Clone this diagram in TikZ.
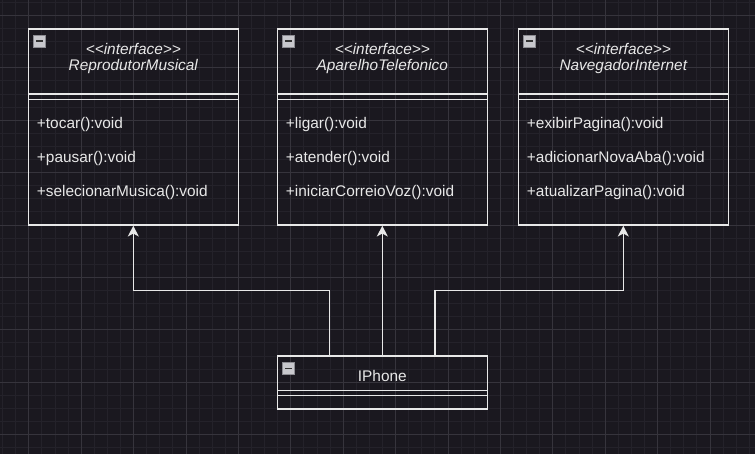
\documentclass[tikz,border=0pt]{standalone}
\usepackage{fontspec}
\newfontfamily\umlfont{Liberation Sans}
\usetikzlibrary{arrows.meta}
\definecolor{bgdark}{RGB}{26,24,31}
\definecolor{gridmajor}{RGB}{54,52,60}
\definecolor{gridminor}{RGB}{36,34,42}
\definecolor{umlline}{RGB}{232,232,232}
\definecolor{icongray}{RGB}{200,200,205}
\definecolor{iconedge}{RGB}{140,140,146}

\begin{document}
\begin{tikzpicture}[x=0.75pt,y=0.75pt,yscale=-1,xscale=1,
    classbox/.style={draw=umlline,line width=1pt,minimum width=157.5pt,inner sep=0pt},
    umlsep/.style={draw=umlline,line width=1pt},
    umltext/.style={text=umlline,inner sep=0pt,font=\umlfont\fontsize{11.55}{13.9}\selectfont},
    stereo/.style={umltext,font=\umlfont\itshape\fontsize{11.55}{13.9}\selectfont},
    member/.style={umltext,anchor=west},
    foldicon/.style={fill=icongray,draw=iconedge,line width=0.6pt},
    umledge/.style={draw=umlline,line width=1pt,-{Stealth[length=8pt,width=8.25pt,inset=2.2pt]}}
  ]
        %set diagram area 755 x 454
        \useasboundingbox (0,0) rectangle (755,454);
        \fill [bgdark] (0,0) rectangle (755,454);

        %Grid
        \foreach \gx in {2.5,15.6,...,755} \draw [gridminor,line width=0.5pt] (\gx,0) -- (\gx,454);
        \foreach \gy in {2.2,15.3,...,454} \draw [gridminor,line width=0.5pt] (0,\gy) -- (755,\gy);
        \foreach \gx in {28.7,81.1,...,755} \draw [gridmajor,line width=0.6pt] (\gx,0) -- (\gx,454);
        \foreach \gy in {15.3,67.7,...,454} \draw [gridmajor,line width=0.6pt] (0,\gy) -- (755,\gy);

        %Shape: Class ReprodutorMusical
        \node [classbox,minimum height=147pt] (reprodutor) at (133.3,127.15) {};
        \draw [umlsep] (28.3,94) -- (238.3,94) ;
        \draw [umlsep] (28.3,99.3) -- (238.3,99.3) ;
        \draw [foldicon] (33.8,35.5) rectangle (45.3,47) ;
        \draw [line width=1.2pt,black!80] (36.3,41.25) -- (42.8,41.25) ;
        % Text Node
        \node [stereo] (reproStereo) at (133.3,48.5) {<<interface>>};
        \node [stereo] (reproNome) at (133.3,67) {ReprodutorMusical};
        \node [member] (tocar) at (36.7,124.5) {+tocar():void};
        \node [member] (pausar) at (36.7,158.5) {+pausar():void};
        \node [member] (selecionar) at (36.7,192.5) {+selecionarMusica():void};

        %Shape: Class AparelhoTelefonico
        \node [classbox,minimum height=147pt] (aparelho) at (382.3,127.15) {};
        \draw [umlsep] (277.3,94) -- (487.3,94) ;
        \draw [umlsep] (277.3,99.3) -- (487.3,99.3) ;
        \draw [foldicon] (282.8,35.5) rectangle (294.3,47) ;
        \draw [line width=1.2pt,black!80] (285.3,41.25) -- (291.8,41.25) ;
        % Text Node
        \node [stereo] (aparelhoStereo) at (382.3,48.5) {<<interface>>};
        \node [stereo] (aparelhoNome) at (382.3,67) {AparelhoTelefonico};
        \node [member] (ligar) at (285.7,124.5) {+ligar():void};
        \node [member] (atender) at (285.7,158.5) {+atender():void};
        \node [member] (correio) at (285.7,192.5) {+iniciarCorreioVoz():void};

        %Shape: Class NavegadorInternet
        \node [classbox,minimum height=147pt] (navegador) at (623.3,127.15) {};
        \draw [umlsep] (518.3,94) -- (728.3,94) ;
        \draw [umlsep] (518.3,99.3) -- (728.3,99.3) ;
        \draw [foldicon] (523.8,35.5) rectangle (535.3,47) ;
        \draw [line width=1.2pt,black!80] (526.3,41.25) -- (532.8,41.25) ;
        % Text Node
        \node [stereo] (navegadorStereo) at (623.3,48.5) {<<interface>>};
        \node [stereo] (navegadorNome) at (623.3,67) {NavegadorInternet};
        \node [member] (exibir) at (526.7,124.5) {+exibirPagina():void};
        \node [member] (novaAba) at (526.7,158.5) {+adicionarNovaAba():void};
        \node [member] (atualizar) at (526.7,192.5) {+atualizarPagina():void};

        %Shape: Class IPhone
        \node [classbox,minimum height=39.75pt] (iphone) at (382.3,382.5) {};
        \draw [umlsep] (277.3,390.8) -- (487.3,390.8) ;
        \draw [umlsep] (277.3,395.3) -- (487.3,395.3) ;
        \draw [foldicon] (282.8,362.7) rectangle (294.3,374.2) ;
        \draw [line width=1.2pt,black!80] (285.3,368.45) -- (291.8,368.45) ;
        % Text Node
        \node [umltext] (iphoneNome) at (382.3,375.8) {IPhone};

        %Realization edges
        \draw [umledge] ([xshift=-39.4pt]iphone.north) -- ++(0,-65) -| (reprodutor.south) ;
        \draw [umledge] (iphone.north) -- (aparelho.south) ;
        \draw [umledge] ([xshift=39.4pt]iphone.north) -- ++(0,-65) -| (navegador.south) ;

\end{tikzpicture}
\end{document}
